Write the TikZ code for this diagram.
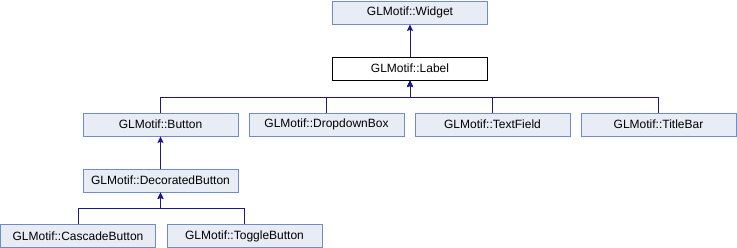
\documentclass[tikz,border=0pt]{standalone}
\usepackage{fontspec}
\setmainfont{Liberation Sans}
\usepackage{tikz}
\usetikzlibrary{arrows.meta,positioning,calc}
\definecolor{ClassFill}  {RGB}{232,236,245}
\definecolor{ClassEdge}  {RGB}{112,140,200}
\definecolor{InheritBlue}{RGB}{ 24, 24,140}
\tikzset{
  classbox/.style={draw=ClassEdge, fill=ClassFill, line width=0.9pt,
                   minimum width=155pt, minimum height=23pt, inner sep=0pt,
                   font=\fontsize{12}{14}\selectfont},
  thisclass/.style={classbox, draw=black, fill=white},
  inherit/.style={draw=InheritBlue, line width=1pt,
                  -{Stealth[length=6.5pt,width=6pt,inset=1pt]}}
}
\begin{document}
\begin{tikzpicture}[x=1pt, y=-1pt]
  \useasboundingbox (0,0) rectangle (737,248);
  % top of the tree
  \node[classbox]  (widget) at (410,12.5) {GLMotif::Widget};
  \node[thisclass] (label)  at (410,68.5) {GLMotif::Label};
  % classes derived from the label
  \node[classbox] (button)   at (160.5,124.5) {GLMotif::Button};
  \node[classbox] (dropdown) at (326.5,124.5) {GLMotif::DropdownBox};
  \node[classbox] (textfield) at (492.5,124.5) {GLMotif::TextField};
  \node[classbox] (titlebar) at (658.5,124.5) {GLMotif::TitleBar};
  % button subtree
  \node[classbox] (decorated) at (160.5,180.5) {GLMotif::DecoratedButton};
  \node[classbox] (cascade)   at (78,236)     {GLMotif::CascadeButton};
  \node[classbox] (toggle)    at (244.5,236)  {GLMotif::ToggleButton};
  % joints where the sibling edges meet
  \coordinate (labelbar) at ($(label.south)+(0,17)$);
  \coordinate (decobar)  at ($(decorated.south)+(0,16)$);
  % inheritance edges
  \draw[inherit] (label.north) -- (widget.south);
  \foreach \kid in {button,dropdown,textfield,titlebar}
    \draw[inherit] (\kid.north) |- (labelbar) -- (label.south);
  \draw[inherit] (decorated.north) -- (button.south);
  \foreach \kid in {cascade,toggle}
    \draw[inherit] (\kid.north) |- (decobar) -- (decorated.south);
\end{tikzpicture}
\end{document}
